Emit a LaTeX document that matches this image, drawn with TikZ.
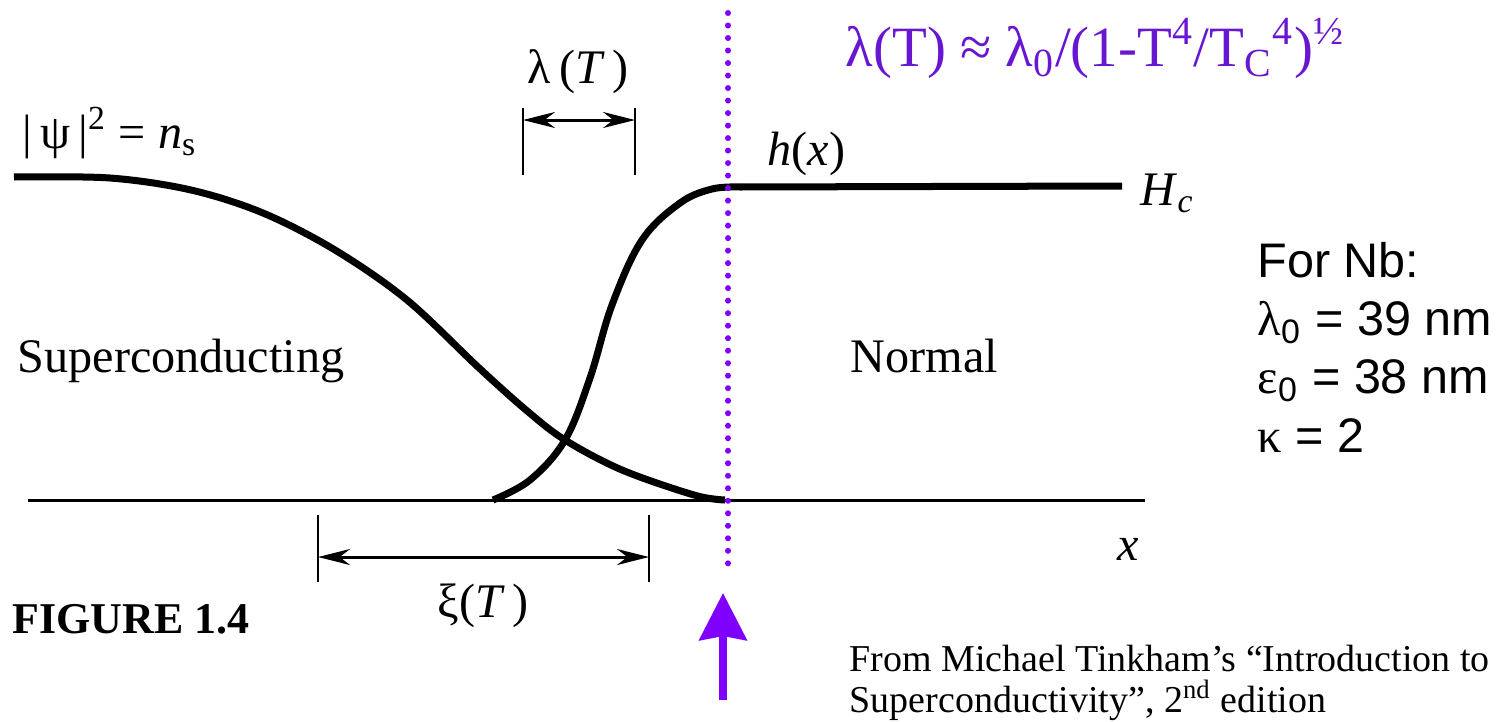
\documentclass[tikz,border=0pt]{standalone}
\usepackage{fontspec}
\setmainfont{Liberation Serif}
\newfontfamily\arialfont{Liberation Sans}
\usetikzlibrary{arrows.meta}
\definecolor{formulaviolet}{RGB}{104,22,210}
\definecolor{markviolet}{RGB}{128,0,255}
\tikzset{
  curve/.style={line width=0.07cm, line join=round},
  axisline/.style={line width=0.03cm},
  tick/.style={line width=0.025cm},
  span/.style={line width=0.03cm, {Stealth[length=0.32cm, width=0.16cm]}-{Stealth[length=0.32cm, width=0.16cm]}},
  lbl/.style={anchor=base west, inner sep=0pt, font=\fontsize{13.7}{16}\selectfont},
}
\begin{document}
\begin{tikzpicture}[x=0.01cm, y=-0.01cm]
    \useasboundingbox (0,0) rectangle (1497,721);
    % axis and the two profiles
    \coordinate (axL) at (28,500);
    \coordinate (axR) at (1145,500);
    \draw[axisline] (axL) -- (axR);
    \draw[curve] plot[smooth, tension=0.55] coordinates {(14,177) (110,178) (191,190) (263,213) (335,250) (407,300) (478,367) (526,410) (565,440) (622,470) (694,495) (725,500)};
    \draw[curve] plot[smooth, tension=0.6] coordinates {(493,500) (530,480) (565,440) (590,378) (612,305) (642,240) (680,203) (712,189) (740,187)};
    \coordinate (hA) at (740,187);
    \coordinate (hB) at (1122,186);
    \draw[curve] (hA) -- (hB);
    % penetration depth
    \coordinate (lamL) at (523,108);
    \coordinate (lamR) at (635,108);
    \draw[tick] (lamL) -- ++(0,67);
    \draw[tick] (lamR) -- ++(0,67);
    \draw[span] ([yshift=-0.12cm]lamL) -- ([yshift=-0.12cm]lamR);
    % coherence length
    \coordinate (xiL) at (318,515);
    \coordinate (xiR) at (649,515);
    \draw[tick] (xiL) -- ++(0,67);
    \draw[tick] (xiR) -- ++(0,67);
    \draw[span] ([yshift=-0.42cm]xiL) -- ([yshift=-0.42cm]xiR);
    % labels
    \node[lbl] (psilab) at (22,148) {|\,ψ\,|\textsuperscript{2} = \textit{n}\textsubscript{s}};
    \node[lbl] (suplab) at (17,372) {Superconducting};
    \node[lbl] (normlab) at (850,372) {Normal};
    \node[lbl] (hlab) at (767,165) {\textit{h}(\textit{x})};
    \node[lbl] (hclab) at (1140,205) {\textit{H}\textsubscript{\textit{c}}};
    \node[lbl] (xlab) at (1117,560) {\textit{x}};
    \node[lbl] (lamlab) at (527,83) {λ\,(\textit{T}\,)};
    \node[lbl] (xilab) at (437,617) {ξ(\textit{T}\,)};
    \node[lbl, font=\fontsize{12.5}{14}\selectfont\bfseries] (figlab) at (12,633) {FIGURE 1.4};
    % interface marker
    \coordinate (dotTop) at (728,13);
    \coordinate (dotBot) at (728,572);
    \draw[markviolet, line width=0.06cm, line cap=round, dash pattern=on 0pt off 0.125cm] (dotTop) -- (dotBot);
    \coordinate (arrTail) at (723,700);
    \coordinate (arrTip) at (723,593);
    \draw[markviolet, line width=0.08cm, -{Stealth[length=0.47cm, width=0.47cm, inset=0.04cm]}] (arrTail) -- (arrTip);
    \node[lbl, text=formulaviolet, font=\fontsize{16.2}{19}\selectfont] (formula) at (845,67)
      {λ(T) ≈ λ\textsubscript{0}/(1-T\textsuperscript{4}/T\textsubscript{C}\textsuperscript{4})\textsuperscript{½}};
    \node[lbl, align=left, font=\arialfont\fontsize{13.8}{16.5}\selectfont] (nblab) at (1257,452)
      {For Nb:\\{\rmfamily λ}\textsubscript{0} = 39 nm\\{\rmfamily ε}\textsubscript{0} = 38 nm\\{\rmfamily κ} = 2};
    \node[lbl, align=left, font=\fontsize{10.8}{11.4}\selectfont] (cite) at (849,712)
      {From Michael Tinkham’s “Introduction to\\Superconductivity”, 2\textsuperscript{nd} edition};
\end{tikzpicture}
\end{document}
